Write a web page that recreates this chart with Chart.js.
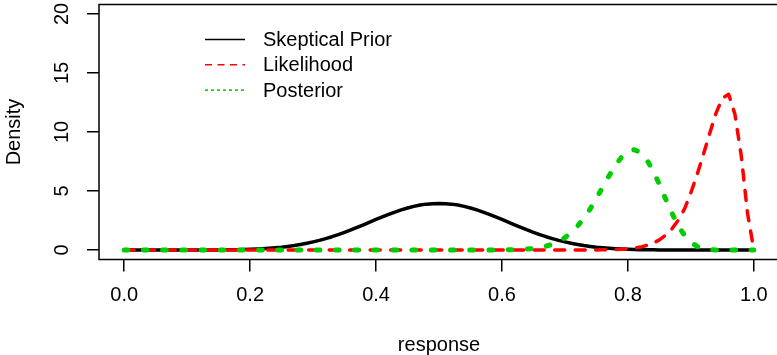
<!DOCTYPE html>
<html>
<head>
<meta charset="utf-8">
<script src="https://cdn.jsdelivr.net/npm/chart.js@4/dist/chart.umd.min.js"></script>
<style>
  html, body { margin: 0; padding: 0; background: #fff; overflow: hidden; }
  #wrap { width: 781px; height: 355px; }
</style>
</head>
<body>
<div id="wrap"><canvas id="densityChart" width="781" height="355"></canvas></div>
<script>
// response grid (x) and the three densities
const response = [
  0.00, 0.01, 0.02, 0.03, 0.04, 0.05, 0.06, 0.07, 0.08, 0.09,
  0.10, 0.11, 0.12, 0.13, 0.14, 0.15, 0.16, 0.17, 0.18, 0.19,
  0.20, 0.21, 0.22, 0.23, 0.24, 0.25, 0.26, 0.27, 0.28, 0.29,
  0.30, 0.31, 0.32, 0.33, 0.34, 0.35, 0.36, 0.37, 0.38, 0.39,
  0.40, 0.41, 0.42, 0.43, 0.44, 0.45, 0.46, 0.47, 0.48, 0.49,
  0.50, 0.51, 0.52, 0.53, 0.54, 0.55, 0.56, 0.57, 0.58, 0.59,
  0.60, 0.61, 0.62, 0.63, 0.64, 0.65, 0.66, 0.67, 0.68, 0.69,
  0.70, 0.71, 0.72, 0.73, 0.74, 0.75, 0.76, 0.77, 0.78, 0.79,
  0.80, 0.81, 0.82, 0.83, 0.84, 0.85, 0.86, 0.87, 0.88, 0.89,
  0.90, 0.91, 0.92, 0.93, 0.94, 0.95, 0.96, 0.97, 0.98, 0.99,
  1.00
];

const skepticalPrior = [
  0, 0, 0, 0, 0, 0, 0, 0, 0, 0,
  0, 0, 0, 0, 0, 0.01, 0.02, 0.02, 0.03, 0.05,
  0.06, 0.08, 0.11, 0.15, 0.19, 0.24, 0.31, 0.38, 0.47, 0.57,
  0.69, 0.82, 0.97, 1.13, 1.31, 1.50, 1.70, 1.92, 2.14, 2.37,
  2.59, 2.81, 3.02, 3.22, 3.40, 3.56, 3.70, 3.81, 3.89, 3.93,
  3.95, 3.93, 3.89, 3.81, 3.70, 3.56, 3.40, 3.22, 3.02, 2.81,
  2.59, 2.37, 2.14, 1.92, 1.70, 1.50, 1.31, 1.13, 0.97, 0.82,
  0.69, 0.57, 0.47, 0.38, 0.31, 0.24, 0.19, 0.15, 0.11, 0.08,
  0.06, 0.05, 0.03, 0.02, 0.02, 0.01, 0, 0, 0, 0,
  0, 0, 0, 0, 0, 0, 0, 0, 0, 0,
  0
];

const likelihood = [
  0, 0, 0, 0, 0, 0, 0, 0, 0, 0,
  0, 0, 0, 0, 0, 0, 0, 0, 0, 0,
  0, 0, 0, 0, 0, 0, 0, 0, 0, 0,
  0, 0, 0, 0, 0, 0, 0, 0, 0, 0,
  0, 0, 0, 0, 0, 0, 0, 0, 0, 0,
  0, 0, 0, 0, 0, 0, 0, 0, 0, 0,
  0, 0, 0, 0, 0, 0, 0, 0, 0, 0,
  0, 0, 0, 0, 0, 0.01, 0.02, 0.03, 0.04, 0.07,
  0.11, 0.17, 0.25, 0.39, 0.58, 0.86, 1.25, 1.80, 2.53, 3.49,
  4.85, 6.40, 8.10, 9.90, 11.60, 12.85, 13.20, 11.50, 8.00, 3.13,
  0
];

const posterior = [
  0, 0, 0, 0, 0, 0, 0, 0, 0, 0,
  0, 0, 0, 0, 0, 0, 0, 0, 0, 0,
  0, 0, 0, 0, 0, 0, 0, 0, 0, 0,
  0, 0, 0, 0, 0, 0, 0, 0, 0, 0,
  0, 0, 0, 0, 0, 0, 0, 0, 0, 0,
  0, 0, 0, 0, 0, 0, 0, 0, 0, 0,
  0.01, 0.02, 0.03, 0.05, 0.08, 0.13, 0.21, 0.33, 0.49, 0.73,
  1.05, 1.48, 2.02, 2.70, 3.47, 4.38, 5.33, 6.28, 7.17, 7.87,
  8.36, 8.50, 8.26, 7.64, 6.73, 5.58, 4.32, 3.12, 2.06, 1.24,
  0.66, 0.31, 0.12, 0.04, 0.01, 0, 0, 0, 0, 0,
  0
];

const seriesNames = ['Skeptical Prior', 'Likelihood', 'Posterior'];
const xTickValues = [0, 0.2, 0.4, 0.6, 0.8, 1.0];
const yTickValues = [0, 5, 10, 15, 20];

const FONT = '"Liberation Sans", Arial, sans-serif';

function pts(ys) {
  return response.map((x, i) => ({ x: x, y: ys[i] }));
}

// box round the plot region + the R-style legend (no frame)
const frameAndLegend = {
  id: 'frameAndLegend',
  afterDatasetsDraw(chart) {
    const { ctx, chartArea: a } = chart;
    ctx.save();
    ctx.strokeStyle = '#000';
    ctx.lineWidth = 1.5;
    ctx.setLineDash([]);
    ctx.strokeRect(a.left, a.top, a.right - a.left, a.bottom - a.top);

    const lx = a.left + 106;
    const ly = a.top + 35;
    chart.data.datasets.forEach((ds, i) => {
      const y = ly + i * 25.3;
      ctx.beginPath();
      ctx.lineCap = 'butt';
      ctx.setLineDash(ds.legendDash);
      ctx.strokeStyle = ds.borderColor;
      ctx.lineWidth = 1.6;
      ctx.moveTo(lx, y);
      ctx.lineTo(lx + 40, y);
      ctx.stroke();
      ctx.setLineDash([]);
      ctx.fillStyle = '#000';
      ctx.font = '20px ' + FONT;
      ctx.textBaseline = 'middle';
      ctx.textAlign = 'left';
      ctx.fillText(ds.label, lx + 58, y + 1);
    });
    ctx.restore();
  }
};

const ctx = document.getElementById('densityChart').getContext('2d');
const densityChart = new Chart(ctx, {
  type: 'line',
  data: {
    datasets: [
      {
        label: seriesNames[0],
        data: pts(skepticalPrior),
        borderColor: '#000000',
        borderWidth: 3.5,
        borderCapStyle: 'round',
        borderJoinStyle: 'round',
        legendDash: [],
        order: 3
      },
      {
        label: seriesNames[1],
        data: pts(likelihood),
        borderColor: '#FF0000',
        borderWidth: 3.5,
        borderDash: [10, 10.5],
        borderCapStyle: 'round',
        borderJoinStyle: 'round',
        legendDash: [7, 5.5],
        order: 2
      },
      {
        label: seriesNames[2],
        data: pts(posterior),
        borderColor: '#00CD00',
        borderWidth: 5,
        borderDash: [3.7, 15.5],
        borderCapStyle: 'round',
        borderJoinStyle: 'round',
        legendDash: [3, 3],
        order: 1
      }
    ]
  },
  options: {
    responsive: false,
    animation: false,
    devicePixelRatio: 1,
    elements: { point: { radius: 0 }, line: { tension: 0, fill: false } },
    layout: { padding: { top: 4.5, right: 2, bottom: 0, left: 0 } },
    plugins: { legend: { display: false }, tooltip: { enabled: false } },
    scales: {
      x: {
        type: 'linear',
        min: -0.04,
        max: 1.04,
        afterBuildTicks: s => { s.ticks = xTickValues.map(v => ({ value: v })); },
        afterFit: s => { s.height = 95.5; s.paddingLeft = 0; s.paddingRight = 0; },
        grid: { drawOnChartArea: false, drawTicks: true, tickLength: 12, color: '#000', lineWidth: 1.5 },
        border: { display: false },
        ticks: {
          autoSkip: false, maxRotation: 0, minRotation: 0, padding: 12,
          color: '#000', font: { family: FONT, size: 20 },
          callback: v => Number(v).toFixed(1)
        },
        title: {
          display: true, text: 'response', color: '#000',
          font: { family: FONT, size: 20, lineHeight: 1 },
          padding: { top: 0, bottom: 0 }
        }
      },
      y: {
        type: 'linear',
        min: -0.8,
        max: 20.8,
        afterBuildTicks: s => { s.ticks = yTickValues.map(v => ({ value: v })); },
        afterFit: s => { s.width = 99; s.paddingTop = 0; s.paddingBottom = 0; },
        grid: { drawOnChartArea: false, drawTicks: true, tickLength: 12, color: '#000', lineWidth: 1.5 },
        border: { display: false },
        ticks: {
          autoSkip: false, minRotation: 90, maxRotation: 90, crossAlign: 'center', padding: 13,
          color: '#000', font: { family: FONT, size: 20 },
          callback: v => String(v)
        },
        title: {
          display: true, text: 'Density', color: '#000',
          font: { family: FONT, size: 20, lineHeight: 1 },
          padding: { top: 4, bottom: 0 }
        }
      }
    }
  },
  plugins: [frameAndLegend]
});
</script>
</body>
</html>
